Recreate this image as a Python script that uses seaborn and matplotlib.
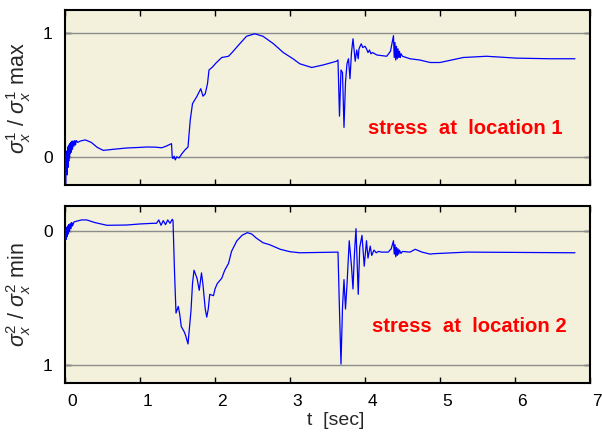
import matplotlib
matplotlib.use("Agg")
import matplotlib.pyplot as plt
import matplotlib.transforms as mtrans
import seaborn as sns
import pandas as pd

# ---- data ----
t1 = [0.00, 0.01, 0.02, 0.03, 0.035, 0.04, 0.045, 0.05, 0.055, 0.06,
      0.065, 0.07, 0.075, 0.08, 0.085, 0.09, 0.095, 0.10, 0.11, 0.12,
      0.13, 0.14, 0.15, 0.17, 0.20, 0.27, 0.35, 0.43, 0.51, 0.65,
      0.82, 1.00, 1.09, 1.20, 1.29, 1.35, 1.42, 1.43, 1.44, 1.455,
      1.47, 1.49, 1.52, 1.56, 1.60, 1.64, 1.67, 1.70, 1.73, 1.76,
      1.81, 1.84, 1.87, 1.90, 1.92, 1.96, 2.02, 2.09, 2.18, 2.22,
      2.33, 2.42, 2.53, 2.64, 2.78, 2.91, 3.04, 3.13, 3.29, 3.44,
      3.62, 3.64, 3.66, 3.68, 3.70, 3.72, 3.74, 3.76, 3.78, 3.80,
      3.82, 3.84, 3.87, 3.89, 3.91, 3.92, 3.95, 3.97, 4.00, 4.02,
      4.04, 4.06, 4.08, 4.10, 4.16, 4.29, 4.34, 4.38, 4.39, 4.40,
      4.41, 4.42, 4.43, 4.44, 4.45, 4.46, 4.47, 4.48, 4.50, 4.55,
      4.60, 4.73, 4.87, 5.00, 5.31, 5.62, 6.02, 6.47, 6.80]
s1 = [0.03, -0.21, 0.05, -0.14, 0.08, -0.08, 0.09, -0.03, 0.10, 0.00,
      0.11, 0.03, 0.12, 0.04, 0.12, 0.06, 0.13, 0.07, 0.13, 0.09,
      0.135, 0.10, 0.135, 0.12, 0.13, 0.14, 0.12, 0.08, 0.056, 0.065,
      0.075, 0.08, 0.083, 0.082, 0.077, 0.09, 0.11, 0.00, -0.01, 0.01,
      -0.02, 0.005, -0.005, 0.03, 0.06, 0.083, 0.30, 0.43, 0.46, 0.49,
      0.55, 0.49, 0.51, 0.59, 0.70, 0.72, 0.76, 0.80, 0.81, 0.835,
      0.91, 0.97, 0.99, 0.97, 0.91, 0.84, 0.79, 0.75, 0.72, 0.74,
      0.77, 0.78, 0.33, 0.70, 0.68, 0.24, 0.60, 0.75, 0.79, 0.63,
      0.84, 0.95, 0.77, 0.86, 0.79, 0.87, 0.91, 0.88, 0.89, 0.87,
      0.84, 0.86, 0.83, 0.84, 0.82, 0.81, 0.85, 0.975, 0.80, 0.92,
      0.78, 0.89, 0.79, 0.87, 0.80, 0.85, 0.80, 0.83, 0.81, 0.80,
      0.79, 0.78, 0.76, 0.76, 0.80, 0.81, 0.795, 0.79, 0.79]

t2 = [0.00, 0.01, 0.015, 0.02, 0.03, 0.035, 0.045, 0.05, 0.06, 0.07,
      0.08, 0.09, 0.10, 0.12, 0.15, 0.22, 0.29, 0.40, 0.56, 0.82,
      1.00, 1.18, 1.22, 1.25, 1.28, 1.31, 1.34, 1.37, 1.40, 1.43,
      1.44, 1.46, 1.48, 1.51, 1.53, 1.55, 1.59, 1.61, 1.64, 1.68,
      1.70, 1.72, 1.76, 1.79, 1.82, 1.84, 1.87, 1.89, 1.91, 1.93,
      1.98, 2.00, 2.03, 2.09, 2.13, 2.18, 2.22, 2.29, 2.36, 2.43,
      2.49, 2.55, 2.64, 2.73, 2.87, 3.00, 3.13, 3.64, 3.66, 3.68,
      3.70, 3.72, 3.74, 3.76, 3.79, 3.82, 3.84, 3.86, 3.88, 3.91,
      3.93, 3.96, 3.99, 4.02, 4.04, 4.07, 4.09, 4.12, 4.15, 4.18,
      4.22, 4.31, 4.35, 4.38, 4.39, 4.40, 4.41, 4.42, 4.43, 4.44,
      4.45, 4.46, 4.48, 4.50, 4.60, 4.67, 4.76, 4.87, 4.91, 5.36,
      6.80]
s2 = [0.07, -0.01, 0.06, -0.03, 0.04, -0.04, 0.02, -0.05, 0.00, -0.06,
      -0.02, -0.065, -0.04, -0.07, -0.075, -0.085, -0.085, -0.065, -0.045, -0.047,
      -0.055, -0.06, -0.06, -0.085, -0.045, -0.08, -0.05, -0.085, -0.06, -0.09,
      -0.08, 0.30, 0.61, 0.56, 0.62, 0.71, 0.75, 0.78, 0.84, 0.59,
      0.39, 0.29, 0.35, 0.44, 0.31, 0.40, 0.58, 0.64, 0.58, 0.47,
      0.48, 0.43, 0.39, 0.35, 0.29, 0.24, 0.15, 0.072, 0.03, 0.01,
      0.02, 0.05, 0.085, 0.10, 0.134, 0.152, 0.16, 0.155, 0.59, 0.99,
      0.57, 0.36, 0.58, 0.40, 0.07, 0.26, 0.43, 0.16, -0.02, 0.47,
      0.12, 0.03, 0.26, 0.07, 0.20, 0.11, 0.18, 0.14, 0.16, 0.15,
      0.155, 0.155, 0.13, 0.07, 0.17, 0.10, 0.19, 0.12, 0.18, 0.13,
      0.17, 0.14, 0.165, 0.15, 0.155, 0.134, 0.155, 0.17, 0.167, 0.155,
      0.16]

x_ticks = [0, 1, 2, 3, 4, 5, 6, 7]
y_ticks = [0, 1]
label1 = "stress  at  location 1"
label2 = "stress  at  location 2"

assert len(t1) == len(s1) and len(t2) == len(s2)

# ---- style ----
sns.set_style("ticks")
plt.rcParams['font.family'] = ['Liberation Sans', 'DejaVu Sans']
plt.rcParams['mathtext.fontset'] = 'custom'
plt.rcParams['mathtext.rm'] = 'Liberation Sans'
plt.rcParams['mathtext.it'] = 'Liberation Sans:italic'

BG = '#F3F1DC'
fig = plt.figure(figsize=(6.02, 4.38), dpi=100)
ax1 = fig.add_axes([0.108, 0.578, 0.872, 0.399])
ax2 = fig.add_axes([0.108, 0.126, 0.872, 0.404])

df1 = pd.DataFrame({'t': t1, 's': s1})
df2 = pd.DataFrame({'t': t2, 's': s2})

for ax, df in ((ax1, df1), (ax2, df2)):
    ax.set_facecolor(BG)
    for y in y_ticks:
        ax.axhline(y, color='#8c8c8c', lw=1.0, zorder=1)
    sns.lineplot(data=df, x='t', y='s', ax=ax, color='#0000FF', lw=0.9,
                 estimator=None, sort=False, zorder=3)
    ax.set_xlim(0, 7)
    ax.set_xticks(x_ticks)
    ax.set_yticks(y_ticks)
    ax.tick_params(direction='in', top=True, right=True, length=4,
                   width=1.0, labelsize=12.5, colors='black')
    ax.tick_params(axis='y', pad=9)
    ax.tick_params(axis='x', pad=8)
    for sp in ax.spines.values():
        sp.set_linewidth(1.5)
        sp.set_color('black')
    ax.set_xlabel('')

ax1.set_ylim(-0.22, 1.18)
ax1.set_xticklabels([])
ax2.set_ylim(1.13, -0.19)

ax1.set_ylabel(r'$\sigma_x^1$ / $\sigma_x^1$ max', fontsize=15.5, labelpad=7)
ax2.set_ylabel(r'$\sigma_x^2$ / $\sigma_x^2$ min', fontsize=15.5, labelpad=7)
ax2.set_xlabel('t  [sec]', fontsize=14, labelpad=2)

# shift x tick labels and x label slightly right, as in the reference
shift = mtrans.ScaledTranslation(7 / 100, 0, fig.dpi_scale_trans)
for lab in ax2.get_xticklabels():
    lab.set_transform(lab.get_transform() + shift)
ax2.xaxis.label.set_position((0.5 + 8 / (0.872 * 602), 0))

ax1.text(4.04, 0.23, label1, color='#FF0000', fontsize=14.6, fontweight='bold',
         va='center', ha='left')
ax2.text(4.09, 0.71, label2, color='#FF0000', fontsize=14.6, fontweight='bold',
         va='center', ha='left')

fig.savefig('out.png', dpi=100, facecolor='white')
